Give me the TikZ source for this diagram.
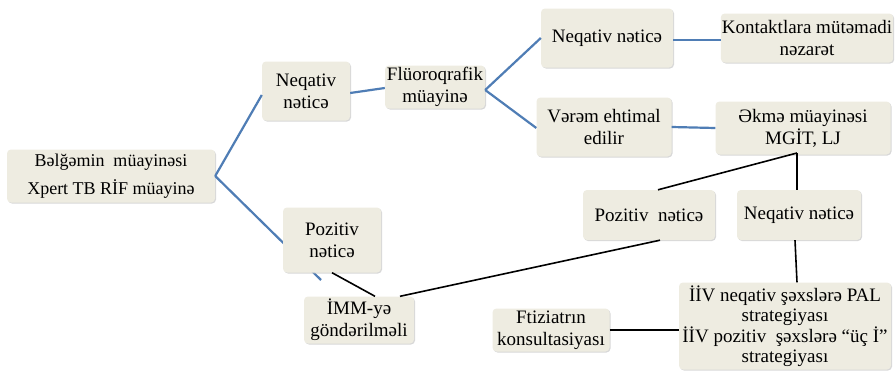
\documentclass[tikz,border=0pt]{standalone}
\usepackage{fontspec}
\setmainfont{Liberation Serif}
\usetikzlibrary{shadows}
\definecolor{boxfill}{HTML}{EEECE1}
\definecolor{lnblue}{HTML}{4F7DB5}
\begin{document}
\begin{tikzpicture}[x=1pt,y=-1pt,
  box/.style={draw=none,fill=boxfill,rounded corners=4pt,align=center,inner sep=1pt,
    font=\fontsize{19}{22}\selectfont,
    drop shadow={shadow xshift=1pt,shadow yshift=-1pt,fill=black!25,opacity=0.6}},
  bl/.style={draw=lnblue,line width=2.2pt},
  bk/.style={draw=black,line width=1.6pt}]
\path[use as bounding box,fill=white] (0,0) rectangle (895,370);
% blue line behind J
\coordinate (jhid) at (321,280);
\node[box,minimum width=208pt,minimum height=53pt,font=\fontsize{18}{28}\selectfont] (A) at (111,176) {Bəlğəmin\ \ müayinəsi\\Xpert TB RİF müayinə};
\draw[bl] (A.east) -- (jhid);
\node[box,minimum width=88pt,minimum height=59pt] (B) at (306,91) {Neqativ\\nəticə};
\node[box,minimum width=100pt,minimum height=43pt] (C) at (435,87) {Flüoroqrafik\\müayinə};
\node[box,minimum width=132pt,minimum height=59pt] (D) at (607,38) {Neqativ nəticə};
\node[box,minimum width=171pt,minimum height=49pt] (E) at (807,38) {Kontaktlara mütəmadi\\nəzarət};
\node[box,minimum width=135pt,minimum height=59pt] (F) at (604,127) {Vərəm ehtimal\\edilir};
\node[box,minimum width=175pt,minimum height=53pt] (G) at (803,128) {Əkmə müayinəsi\\MGİT, LJ};
\node[box,minimum width=132pt,minimum height=50pt] (H) at (649,215) {Pozitiv\ \ nəticə};
\node[box,minimum width=124pt,minimum height=50pt] (I) at (799,215) {Neqativ nəticə};
\node[box,minimum width=98pt,minimum height=65pt] (J) at (332,240) {Pozitiv\\nəticə};
\node[box,minimum width=110pt,minimum height=47pt] (K) at (359,320) {İMM-yə\\göndərilməli};
\node[box,minimum width=117pt,minimum height=43pt] (L) at (551,330) {Ftiziatrın\\konsultasiyası};
\node[box,minimum width=212pt,minimum height=87pt,font=\fontsize{19}{20.5}\selectfont] (M) at (785,326) {İİV neqativ şəxslərə PAL\\strategiyası\\İİV pozitiv\ \ şəxslərə “üç İ”\\strategiyası};
% blue connectors
\draw[bl] (A.east) -- (B.west |- 0,95);
\draw[bl] (B.east |- 0,93) -- (C.west |- 0,88);
\draw[bl] (C.east |- 0,90) -- (D.west |- 0,38);
\draw[bl] (C.east |- 0,90) -- (F.west |- 0,128);
\draw[bl] (D.east |- 0,40) -- (E.west |- 0,40);
\draw[bl] (F.east |- 0,127) -- (G.west |- 0,128);
% black connectors
\coordinate (g1) at (797,153);
\draw[bk] (g1) -- (H.north -| 658,0);
\draw[bk] (g1) -- (I.north -| 797,0);
\draw[bk] (H.south -| 660,0) -- (K.north east -| 400,0);
\draw[bk] (J.south) -- (K.north -| 375,0);
\draw[bk] (I.south -| 795,0) -- (M.north -| 797,0);
\draw[bk] (L.east) -- (M.west |- L.east);
\end{tikzpicture}
\end{document}
